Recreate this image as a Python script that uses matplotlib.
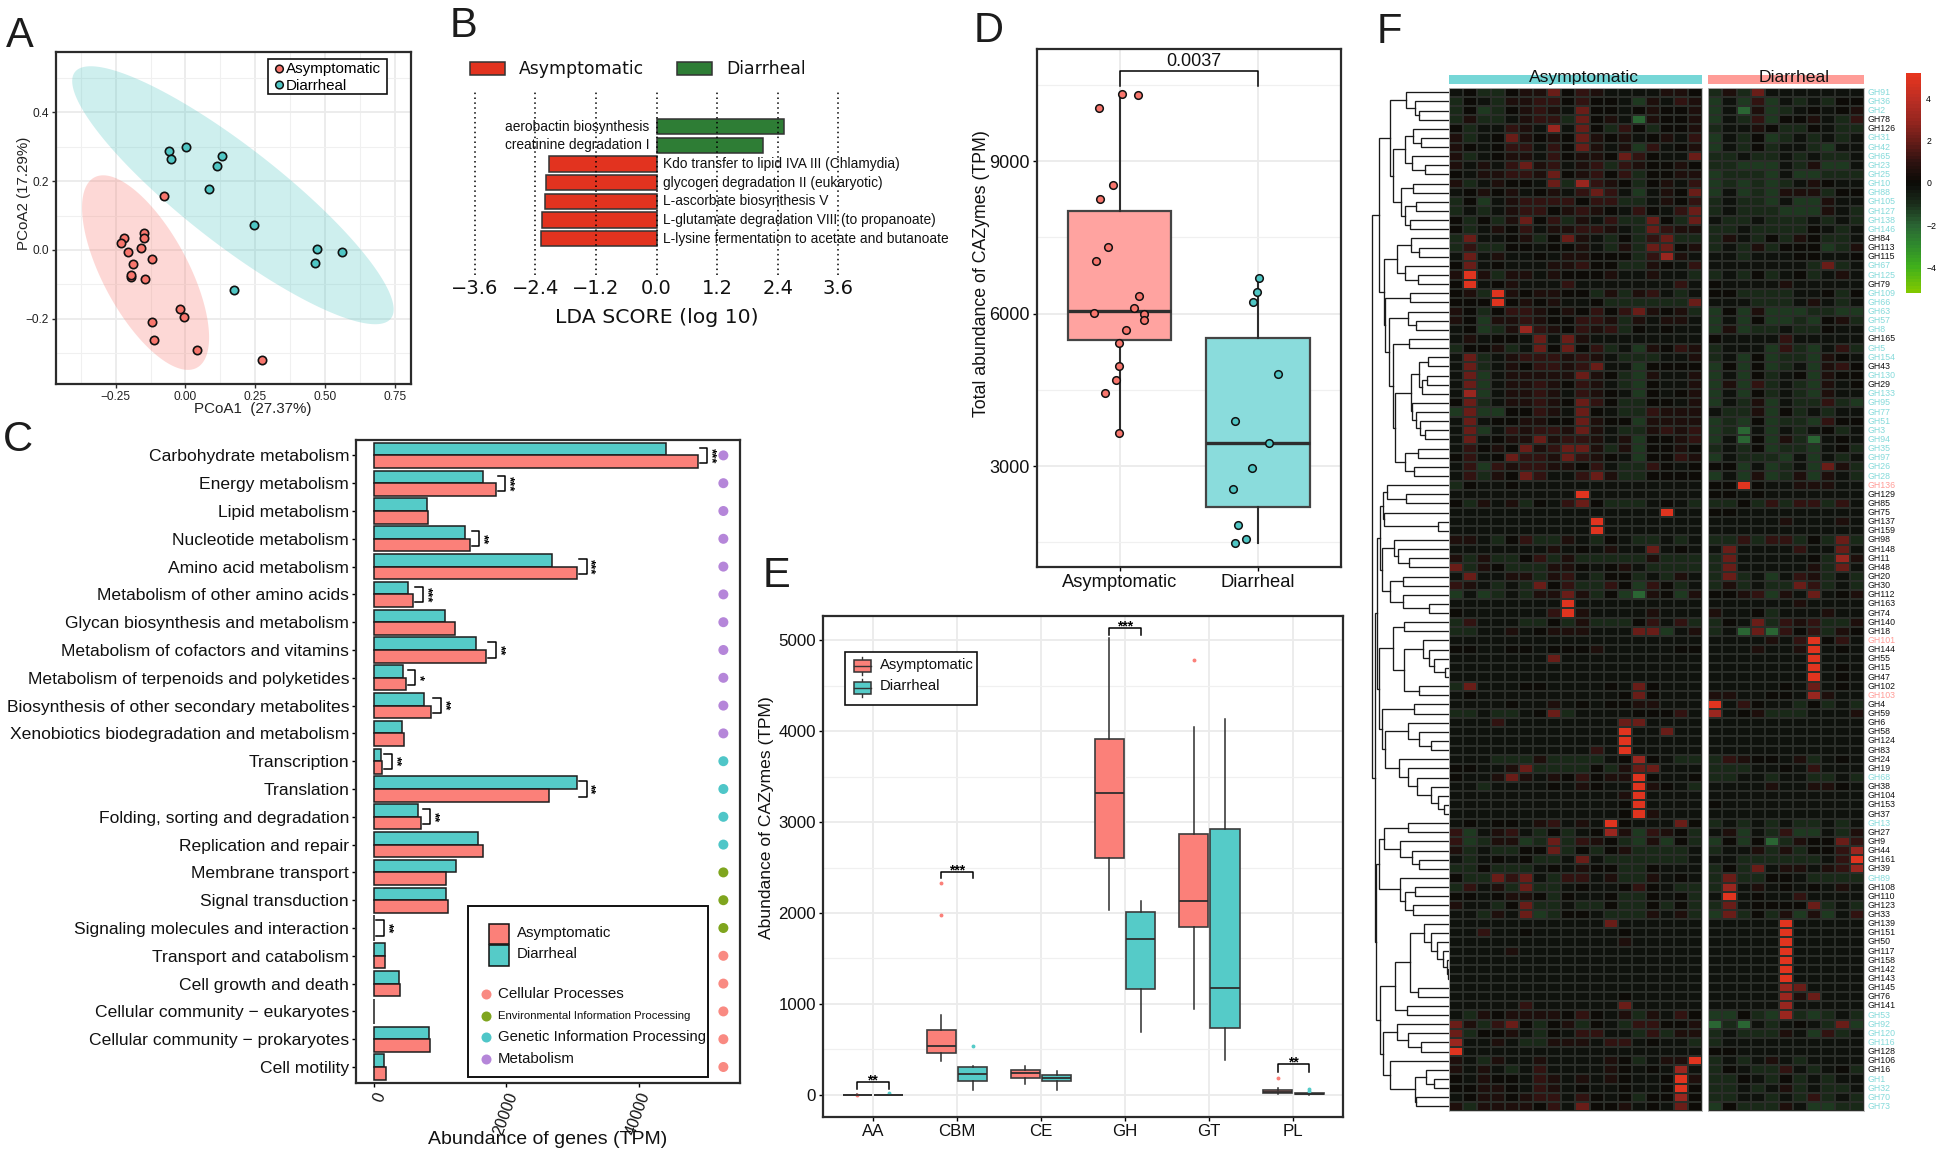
import numpy as np
import matplotlib
matplotlib.use('Agg')
from matplotlib import pyplot as plt
from matplotlib.colors import LinearSegmentedColormap
from matplotlib.patches import Rectangle
from matplotlib.transforms import ScaledTranslation

plt.rcParams['font.family'] = ['Liberation Sans', 'DejaVu Sans']

W, H = 1943, 1152
SALMON = '#F8766D'
TEAL = '#4FC6C4'
DARK = '#2b2b2b'

# Panel A
a_asym_x = [-0.076, -0.148, -0.219, -0.232, -0.149, -0.158, -0.207, -0.119, -0.189, -0.197, -0.195, -0.146, -0.020, -0.007, -0.121, -0.113, 0.041, 0.273]
a_asym_y = [0.158, 0.049, 0.035, 0.021, 0.034, 0.007, -0.005, -0.025, -0.042, -0.078, -0.074, -0.085, -0.171, -0.195, -0.210, -0.263, -0.291, -0.321]
a_diar_x = [-0.059, -0.053, 0.003, 0.130, 0.112, 0.083, 0.244, 0.473, 0.560, 0.463, 0.175]
a_diar_y = [0.289, 0.264, 0.300, 0.273, 0.245, 0.177, 0.073, 0.002, -0.007, -0.037, -0.118]
# centre, major half axis, minor half axis
a_ell_asym = [(-0.143, -0.066), (0.1836, -0.2768), (0.1345, 0.0587)]
a_ell_diar = [(0.170, 0.159), (0.566, -0.3585), (0.1063, 0.1105)]

# Panel B
b_names = ['aerobactin biosynthesis', 'creatinine degradation I', 'Kdo transfer to lipid IVA III (Chlamydia)',
           'glycogen degradation II (eukaryotic)', 'L-ascorbate biosynthesis V',
           'L-glutamate degradation VIII (to propanoate)', 'L-lysine fermentation to acetate and butanoate']
b_scores = [2.52, 2.10, -2.13, -2.19, -2.21, -2.26, -2.28]
b_ticks = [-3.6, -2.4, -1.2, 0.0, 1.2, 2.4, 3.6]

# Panel C
c_names = ['Carbohydrate metabolism', 'Energy metabolism', 'Lipid metabolism', 'Nucleotide metabolism',
           'Amino acid metabolism', 'Metabolism of other amino acids', 'Glycan biosynthesis and metabolism',
           'Metabolism of cofactors and vitamins', 'Metabolism of terpenoids and polyketides',
           'Biosynthesis of other secondary metabolites', 'Xenobiotics biodegradation and metabolism',
           'Transcription', 'Translation', 'Folding, sorting and degradation', 'Replication and repair',
           'Membrane transport', 'Signal transduction', 'Signaling molecules and interaction',
           'Transport and catabolism', 'Cell growth and death', 'Cellular community \u2212 eukaryotes',
           'Cellular community \u2212 prokaryotes', 'Cell motility']
c_diar = [44100, 16530, 8010, 13720, 26860, 5200, 10760, 15450, 4480, 7650, 4330, 1080, 30680, 6640, 15670, 12350, 10970, 70, 1660, 3830, 20, 8370, 1520]
c_asym = [48880, 18400, 8230, 14510, 30680, 5990, 12270, 16970, 4840, 8660, 4550, 1300, 26420, 7080, 16460, 10900, 11190, 70, 1660, 3900, 10, 8450, 1880]
c_stars = {0: '***', 1: '***', 3: '**', 4: '***', 5: '***', 7: '**', 8: '*', 9: '**', 11: '**', 12: '**', 13: '**', 17: '**'}
c_class = ['M'] * 11 + ['G'] * 4 + ['E'] * 3 + ['C'] * 5
c_class_colors = {'C': '#F98A82', 'E': '#7FA51E', 'G': '#4FC6C8', 'M': '#B586D9'}

# Panel D
d_asym_x = [0.017, 0.136, -0.151, -0.046, -0.139, -0.080, -0.168, 0.144, 0.107, -0.182, 0.175, 0.180, 0.044, -0.005, -0.005, -0.022, -0.105, -0.005]
d_asym_y = [10321, 10298, 10050, 8537, 8258, 7317, 7039, 6354, 6105, 6023, 5992, 5872, 5669, 5420, 4961, 4698, 4434, 3659]
d_diar_x = [1.010, 0.993, 0.961, 1.146, 0.837, 1.078, 0.954, 0.822, 0.859, 0.915, 0.835]
d_diar_y = [6700, 6422, 6226, 4811, 3892, 3463, 2966, 2552, 1845, 1558, 1483]
d_box_asym = dict(whislo=3659, q1=5473, med=6053, q3=8017, whishi=10329, fliers=[])
d_box_diar = dict(whislo=1483, q1=2191, med=3463, q3=5518, whishi=6700, fliers=[])

# Panel E
e_cats = ['AA', 'CBM', 'CE', 'GH', 'GT', 'PL']
e_asym_whislo = [0, 367, 124, 2031, 945, 5]
e_asym_q1 = [0, 462, 190, 2609, 1841, 17]
e_asym_med = [1, 533, 239, 3323, 2134, 29]
e_asym_q3 = [3, 714, 277, 3909, 2869, 50]
e_asym_whishi = [5, 883, 318, 5024, 4050, 78]
e_asym_fliers = [[0], [1973, 2328], [], [], [4788], [182]]
e_diar_whislo = [0, 58, 50, 689, 388, 1]
e_diar_q1 = [0, 157, 149, 1164, 739, 4]
e_diar_med = [1, 227, 186, 1709, 1172, 8]
e_diar_q3 = [3, 301, 223, 2006, 2919, 17]
e_diar_whishi = [5, 322, 260, 2134, 4132, 17]
e_diar_fliers = [[18], [541], [], [], [], [41, 66]]
# category index, bracket top, bracket bottom, stars
e_sig = [(0, 140, 66, '**'), (1, 2456, 2386, '***'), (3, 5135, 5061, '***'), (5, 334, 256, '**')]

# Panel F
f_labels = [91, 36, 2, 78, 126, 31, 42, 65, 23, 25, 10, 88, 105, 127, 138, 146, 84, 113, 115, 67, 125, 79, 109, 66, 63, 57, 8, 165, 5, 154, 43, 130, 29, 133,
            95, 77, 51, 3, 94, 35, 97, 26, 28, 136, 129, 85, 75, 137, 159, 98, 148, 11, 48, 20, 30, 112, 163, 74, 140, 18, 101, 144, 55, 15, 47, 102, 103, 4, 59,
            6, 58, 124, 83, 24, 19, 68, 38, 104, 153, 37, 13, 27, 9, 44, 161, 39, 89, 108, 110, 123, 33, 139, 151, 50, 117, 158, 142, 143, 145, 76, 141, 53, 92,
            120, 116, 128, 106, 16, 1, 32, 70, 73]
f_cyan = [91, 36, 2, 31, 42, 65, 23, 25, 10, 88, 105, 127, 138, 146, 67, 125, 109, 66, 63, 57, 8, 5, 154, 130, 133, 95, 77, 51, 3, 94, 35, 97, 26, 28,
          89, 68, 13, 53, 92, 120, 116, 1, 32, 70, 73]
f_pink = [136, 101, 103]
# one character per cell, read by eye
f_levels = {'#': -2.0, '=': -1.3, '-': -0.9, '.': -0.3, '0': 0.0, '1': 0.5, '2': 1.1, '3': 2.0, '4': 3.0, '5': 5.0}
f_left = [
    '.0--0113021....110', '-0.-11220200.=1.21', '-0=-0121.300.01001', '-1--.122-301.#1001', '0-..21.4.30-20-001',
    '1-.0310103101.01.2', '10.022.2031.1=2.01', '1-.011.20110320..3', '1.1.2312.12-210010', '0.11221301202-0011',
    '1-.100.3-4210-01.2', '.0101.01.232.=.103', '-0=.12222022--.102', '-.-.12201210.20.23', '0-0-1302-1.2--30-3',
    '0-.102.11221.-3211', '-3..01-031.-0-23--', '-2--00.001.-1-3301', '.3.1..0.11000-241.', '03.0...11200--10.2',
    '151-11.10001..1..-', '05.01...2.......2.', '01-5101100-1-12.-.', '00050101..0------3', '10-02210102023101-',
    '10=112100221-1.11.', '.0=-14210212-0.0..', '.1.00.3.31........', '-001-.30302-.=1021', '.3-.1222121.---..1',
    '.3-.1022123..=0000', '.3=.11111310-=1..1', '.3=.1121021.-=0..1', '.4=.1121.210.=0.01', '03-.11210320--00.1',
    '=3==0021.30.--2111', '.3.0011003100=1111', '.3=.2122131.--1212', '.3.01131221.1=0012', '.2010312331-1=0010',
    '02.032213210.=0021', '.2=21221102.--20.0', '.2-1032..231--0000', '-0..0.............', '.........5........',
    '0-1.1-0.230---.0.-', '...............5..', '..........5.......', '..........5.......', '11.-02--1.-0.--.-.',
    '.......1.0.1..3.0.', '1-1--02-1-----1---', '3-10---110.01.----', '.3..11-12.-00-.-1.', '21.-.-302--20=20-.',
    '=.=-.-1131-0=#10=1', '........5.........', '0......251....1...', '-2...--0-1---02.2-', '--..1.0111...33=.1',
    '..................', '00..00.0001.....00', '.......3..........', '..................', '..................',
    '-3...00....0.30...', '.0..........030...', '....0..1.0.0011...', '--.--.03-....0002.', '...2........33....',
    '............5..3..', '............5.....', '..........2.5.....', '...---1----.040.--', '00..13----0-133...',
    '0..131.10201150..0', '..-....0.10..510.-', '............15....', '............05....', '............051...',
    '.0.00.12.1.50...30', '2=.12.-0-.041=210-', '2=-11=-3-210-=1=0-', '1-.--003-0-01----.', '.-.0.0--.3.------.',
    '--0---.0.100--0...', '0--323.-22.1--1.0.', '-2.1-3--.0..020.--', '00.0110-0..0--0.0-', '1..-03--.--0--0-0-',
    '..-1.3=-00.---1.1-', '...........3......', '..2..0......0.....', '............1.....', '....1.............',
    '..................', '..................', '..................', '..................', '............0.....',
    '.....2......3.....', '.-101111020.1-1.20', '31-230-01-0.-22001', '3-001.-0.22..-2-11', '4..1.--111.22.0..-',
    '5.................', '1.-1..1....10-.115', '1.1.-.2....10.0.4.', '0.100.21.1.10..051', '00110.21.0..0..050',
    '.0110122.20.0-0040', '1-111102.3001.0.30']
f_right = [
    '-1-3.......', '=.=2=.-.-00', '=.#1=-.0.01', '=.-2=001.-2', '-..10--0.--',
    '=.-0=-.-.-.', '=.-0-..-=..', '--.--.-.--.', '--===.-1==.', '=---=.==---',
    '=-=-=-.10..', '=.=-=111-00', '-.--=.==1..', '-.---===1.-', '.--.---.-.-',
    '--.----0.-.', '-1.-0-10--.', '-.-1-000=-1', '..-...00..0', '.......-3-.',
    '-.-0-.0-.1.', '0....1.....', '00----..0-0', '...---.1.-.', '=0=1===--==',
    '=.=0==-=01-', '=1=--.--0..', '0....2.....', '-...=2-=.2-', '-.=0=--=10.',
    '=0=0=-.=120', '=.=0-.0=100', '=1=2-.-=1.0', '=.=0-.-=1..', '=.-1=.--2-=',
    '.--1=0-.-..', '=-=0=--=200', '=-#.=.-.0-.', '=.#0=1-#.0.', '-.-0=--=.0-',
    '=.---=.=.-.', '00=.=-.=31-', '=.=1=-1=1.-', '0050..111..', '00.0.......',
    '--0-2-22-2.', '00.........', '.....1...1.', '...........', '--2-22-0-3-',
    '.3....2..3.', '-3.....0-41', '-3.....1-3.', '-3-.=.21-.-', '-1-.--32-.-',
    '0012=1.3.01', '......1....', '1..0-...1..', '-0.3-212--1', '-.#3#202-10',
    '....1.2502.', '...1..15.0.', '.......5...', '.......5.0.', '.......5.0.',
    '.....0.3.0.', '11..00.41..', '5.20..-0-.-', '4.01---...1', '...........',
    '...........', '...........', '...........', '-2100.1-.0.', '---..0.2...',
    '--..-..--.-', '....1..110.', '...........', '0..........', '...........',
    '-.-.-.--.-.', '.1=.-2==.-1', '=0=0#-10032', '-..1-1-0024', '..------.25',
    '-0-3.11.124', '-3--00.----', '-4.1.0.0.1.', '.5.0..2....', '-3.00003-.-',
    '=3-0-1=1=.2', '.....5.....', '.....5.....', '.....5.....', '.....5.....',
    '.....5.....', '.....5.....', '.....5.....', '.....43....', '.....413...',
    '.....4.....', '==0-=4-=-.-', '#-#.-.0.-3=', '-.---1.=2-.', '-..........',
    '00.........', '-.-.1.-....', '-0.--2.-.0-', '--0.-0-.-..', '--.-.1-.--.',
    '--..-.-2-.-', '=0---1.==--']

# dendrogram: (position of the joining line, upper child, lower child), 0 is a leaf
t1 = (125, 0, (147, 0, (160, 0, 0)))
t2 = (122, (143, 0, (163, 0, 0)), (140, 0, (174, 0, 0)))
t3 = (110, (143, 0, 0), (120, (150, 0, 0), (135, 0, 0)))
t_a = (82, t1, (90, t2, t3))
t_b1 = (100, (136, 0, (158, 0, 0)), (122, 0, (157, 0, 0)))
t_b3 = (130, 0, (150, 0, 0))
t_b5 = (160, (183, 0, 0), (168, (180, 0, 0), 0))
t_b6 = (140, 0, (150, 0, (162, 0, (175, 0, 0))))
t_b7 = (120, (157, 0, 0), (146, 0, 0))
t_c = (78, t_b3, (90, (133, 0, 0), (95, (138, t_b5, t_b6), t_b7)))
t_b = (65, t_b1, (68, (135, 0, 0), t_c))
t_top = (52, t_a, t_b)
t_d1 = (62, (72, 0, (125, 0, 0)), (65, 0, (210, 0, 0)))
t_d2 = (92, 0, (103, 0, (133, 0, 0)))
t_d3 = (80, (115, 0, 0), (115, 0, (185, 0, 0)))
t_p = (55, t_d1, (58, t_d2, t_d3))
t_q1 = (88, (118, 0, 0), (118, (170, 0, (185, 0, (200, 0, (228, 0, 0)))), (160, 0, 0)))
t_q2 = (58, (145, 0, 0), (68, (128, 0, (158, 0, (190, 0, 0))), (105, 0, (128, 0, (152, 0, (190, 0, (210, 0, (225, 0, 0))))))))
t_q = (50, t_q1, t_q2)
t_r1 = (65, (130, 0, 0), (108, 0, (140, 0, (158, 0, 0))))
t_r2 = (107, 0, (122, (147, 0, 0), (142, 0, 0)))
t_r = (50, t_r1, t_r2)
t_s1 = (93, (135, (172, 0, (192, 0, (208, 0, (222, 0, (235, 0, (237, 0, 0)))))), (155, 0, 0)), (127, 0, 0))
t_s2 = (62, (100, 0, (128, 0, (165, 0, 0))), (80, 0, (148, (178, 0, (198, 0, 0)), (150, 0, 0))))
t_s = (55, t_s1, t_s2)
t_root = (32, t_top, (40, (45, t_p, t_q), (42, t_r, t_s)))


def add_axes_px(l, t, r, b):
    return fig.add_axes([l / W, 1 - b / H, (r - l) / W, (b - t) / H])


def style_box(ax, lw=1.5):
    for s in ax.spines.values():
        s.set_linewidth(lw)
        s.set_color(DARK)


def ellipse_xy(e):
    t = np.linspace(0, 2 * np.pi, 200)
    c, u, v = e
    return c[0] + u[0] * np.cos(t) + v[0] * np.sin(t), c[1] + u[1] * np.cos(t) + v[1] * np.sin(t)


fig = plt.figure(figsize=(W / 100, H / 100), dpi=100)
ov = fig.add_axes([0, 0, 1, 1], zorder=20)
ov.set_xlim(0, W)
ov.set_ylim(H, 0)
ov.axis('off')

for letter, lx, ly in [('A', 6, 47), ('B', 450, 37), ('C', 3, 451), ('D', 974, 42), ('E', 763, 587), ('F', 1377, 43)]:
    ov.text(lx, ly, letter, fontsize=30, color='#1c1c1c', va='baseline', ha='left')

# A
ax = add_axes_px(55.7, 52, 411, 384)
ax.set_xlim(-0.465, 0.808)
ax.set_ylim(-0.39, 0.5756)
ax.fill(*ellipse_xy(a_ell_diar), color='#4FC6C4', alpha=0.28, lw=0, zorder=2)
ax.fill(*ellipse_xy(a_ell_asym), color=SALMON, alpha=0.28, lw=0, zorder=2)
ax.set_xticks([-0.25, 0, 0.25, 0.5, 0.75])
ax.set_xticklabels(['\u22120.25', '0.00', '0.25', '0.50', '0.75'], fontsize=8.6)
ax.set_yticks([-0.2, 0, 0.2, 0.4])
ax.set_yticklabels(['\u22120.2', '0.0', '0.2', '0.4'], fontsize=8.6)
ax.set_xticks([-0.375, -0.125, 0.125, 0.375, 0.625], minor=True)
ax.set_yticks([-0.3, -0.1, 0.1, 0.3, 0.5], minor=True)
ax.tick_params(which='minor', length=0)
ax.tick_params(which='major', length=3, width=1, color=DARK, labelcolor='#222222', pad=2)
ax.grid(which='major', color='#ebebeb', lw=1.3, zorder=0)
ax.grid(which='minor', color='#f0f0f0', lw=0.8, zorder=0)
ax.set_axisbelow(True)
ax.scatter(a_asym_x, a_asym_y, s=36, c=SALMON, edgecolors='#111111', linewidths=1.2, zorder=4)
ax.scatter(a_diar_x, a_diar_y, s=36, c=TEAL, edgecolors='#111111', linewidths=1.2, zorder=4)
style_box(ax, 1.6)
ov.text(253, 409, 'PCoA1  (27.37%)', fontsize=10.9, ha='center', va='center', color='#222222')
ov.text(24.5, 193, 'PCoA2 (17.29%)', fontsize=10.9, rotation=90, ha='center', va='center', color='#222222')
ov.add_patch(Rectangle((267.7, 59), 119, 34.7, fc='white', ec='#111111', lw=1.2))
ov.scatter([279.5, 279.5], [69, 85], s=30, c=[SALMON, TEAL], edgecolors='#111111', linewidths=1.1)
ov.text(285.5, 69, 'Asymptomatic', fontsize=10.9, va='center')
ov.text(286, 85.5, 'Diarrheal', fontsize=10.9, va='center')

# B
ax = add_axes_px(440, 89.5, 950, 275.3)
ax.set_xlim((440 - 656.6) / 50.5, (950 - 656.6) / 50.5)
ax.set_ylim(7.96, -1.98)
ax.patch.set_alpha(0)
for s in ax.spines.values():
    s.set_visible(False)
for xv in b_ticks:
    ax.axvline(xv, color='k', lw=1.1, ls=(0, (1, 2.2)), zorder=3)
ax.barh(range(len(b_scores)), b_scores, height=0.82, color=['#2E7D35' if v > 0 else '#E2331F' for v in b_scores],
        edgecolor='#333333', lw=1.1, zorder=2)
for i, (nm, v) in enumerate(zip(b_names, b_scores)):
    if v > 0:
        ax.text(-0.15, i, nm, ha='right', va='center', fontsize=9.9, color='#111111', zorder=4)
    else:
        ax.text(0.12, i, nm, ha='left', va='center', fontsize=9.9, color='#111111', zorder=4)
ax.set_yticks([])
ax.set_xticks(b_ticks)
ax.set_xticklabels(['\u22123.6', '\u22122.4', '\u22121.2', '0.0', '1.2', '2.4', '3.6'], fontsize=14, family='DejaVu Sans', color='#111111')
ax.tick_params(length=0, pad=2.4)
ax.set_xlabel('LDA SCORE (log 10)', fontsize=14.7, family='DejaVu Sans', labelpad=7.5, x=(656.6 - 440) / 510, color='#111111')
ov.add_patch(Rectangle((469.7, 62), 35, 13, fc='#E2331F', ec='#333333', lw=1.1))
ov.add_patch(Rectangle((676.5, 62), 35, 13, fc='#2E7D35', ec='#333333', lw=1.1))
ov.text(518.7, 68.5, 'Asymptomatic', fontsize=12.4, family='DejaVu Sans', va='center', color='#111111')
ov.text(726, 68.5, 'Diarrheal', fontsize=12.4, family='DejaVu Sans', va='center', color='#111111')

# C
ax = add_axes_px(356, 440, 740, 1083.4)
ax.set_xlim(-2670, 55290)
ax.set_ylim(22.59, -0.554)
yy = np.arange(len(c_names))
ax.barh(yy - 0.225, c_diar, height=0.45, color='#55CBC8', edgecolor='#1c1c1c', lw=1.1)
ax.barh(yy + 0.225, c_asym, height=0.45, color='#FB8079', edgecolor='#1c1c1c', lw=1.1)
ax.set_yticks(yy)
ax.set_yticklabels(c_names, fontsize=12.6, color='#111111')
ax.set_xticks([0, 20000, 40000])
ax.set_xticklabels(['0', '20000', '40000'], fontsize=11.5, rotation=70, ha='right', rotation_mode='anchor', color='#111111')
ax.tick_params(axis='y', length=3, width=1, pad=2)
ax.tick_params(axis='x', length=3, width=1, pad=2)
for i, st in c_stars.items():
    x0 = max(c_diar[i], c_asym[i]) + 300
    x1 = x0 + 1150
    ax.plot([x0, x1, x1, x0], [i - 0.27, i - 0.27, i + 0.27, i + 0.27], color='k', lw=1.1)
    ax.text(x1 + 550, i, st, rotation=270, ha='center', va='center', fontsize=9.5, fontweight='bold')
ax.scatter([52780] * len(c_class), yy, s=52, c=[c_class_colors[k] for k in c_class], linewidths=0, zorder=4)
style_box(ax, 1.6)
ov.text(548, 1139, 'Abundance of genes (TPM)', fontsize=14, ha='center', va='center', color='#111111')
ov.add_patch(Rectangle((467.5, 906), 240.5, 171.4, fc='white', ec='#111111', lw=1.4))
ov.add_patch(Rectangle((488.5, 923.7), 20.5, 20.5, fc='#FB8079', ec='#111111', lw=1.1))
ov.add_patch(Rectangle((488.5, 945.2), 20.5, 20.5, fc='#55CBC8', ec='#111111', lw=1.1))
ov.text(516.5, 933, 'Asymptomatic', fontsize=10.8, va='center', color='#111111')
ov.text(516.5, 954.5, 'Diarrheal', fontsize=10.8, va='center', color='#111111')
c_leg = [('Cellular Processes', 'C', 10.9, 993.6), ('Environmental Information Processing', 'E', 8.2, 1016.4),
         ('Genetic Information Processing', 'G', 10.7, 1037), ('Metabolism', 'M', 10.8, 1058.7)]
for txt, k, fs, ly in c_leg:
    ov.scatter([485.5], [ly], s=52, c=c_class_colors[k], linewidths=0)
    ov.text(497.5, ly, txt, fontsize=fs, va='center', color='#111111')

# D
ax = add_axes_px(1037, 48.5, 1341, 567)
ax.set_xlim(-0.596, 1.6)
ax.set_ylim(1016, 11217)
ax.set_xticks([0, 1])
ax.set_xticklabels(['Asymptomatic', 'Diarrheal'], fontsize=13.2, color='#111111')
for lab, shift in zip(ax.get_xticklabels(), [8, 5]):
    lab.set_transform(lab.get_transform() + ScaledTranslation(shift / 100, 0, fig.dpi_scale_trans))
ax.set_yticks([3000, 6000, 9000])
ax.set_yticklabels(['3000', '6000', '9000'], fontsize=13, color='#111111')
ax.set_yticks([1500, 4500, 7500, 10500], minor=True)
ax.tick_params(which='minor', length=0)
ax.tick_params(which='major', length=3, width=1, pad=2)
ax.grid(which='major', color='#ebebeb', lw=1.3)
ax.grid(which='minor', axis='y', color='#f0f0f0', lw=0.9)
ax.set_axisbelow(True)
for pos, stats, col in [(0, d_box_asym, '#FFA3A0'), (1, d_box_diar, '#8ADCDC')]:
    ax.bxp([stats], positions=[pos], widths=0.75, patch_artist=True, showcaps=False, showfliers=False,
           boxprops=dict(facecolor=col, edgecolor='#444444', lw=1.6),
           medianprops=dict(color='#2e2e2e', lw=2.4),
           whiskerprops=dict(color='#2e2e2e', lw=1.5), manage_ticks=False)
ax.scatter(d_asym_x, d_asym_y, s=30, c=SALMON, edgecolors='#111111', linewidths=1.1, zorder=5)
ax.scatter(d_diar_x, d_diar_y, s=30, c=TEAL, edgecolors='#111111', linewidths=1.1, zorder=5)
ax.plot([0, 0, 1, 1], [10480, 10770, 10770, 10480], color='k', lw=1.1)
ax.text(0.54, 10790, '0.0037', ha='center', va='bottom', fontsize=13, color='#111111')
style_box(ax, 1.6)
ov.text(981.5, 274, 'Total abundance of CAZymes (TPM)', rotation=90, fontsize=12.8, ha='center', va='center', color='#111111')

# E
ax = add_axes_px(822.7, 616, 1343, 1117)
ax.set_xlim(-0.596, 5.59)
ax.set_ylim(-244, 5267)
ax.set_xticks(range(len(e_cats)))
ax.set_xticklabels(e_cats, fontsize=12.2, color='#111111')
ax.set_yticks([0, 1000, 2000, 3000, 4000, 5000])
ax.set_yticklabels(['0', '1000', '2000', '3000', '4000', '5000'], fontsize=12.2, color='#111111')
ax.set_yticks([500, 1500, 2500, 3500, 4500], minor=True)
ax.tick_params(which='minor', length=0)
ax.tick_params(which='major', length=3, width=1, pad=2)
ax.grid(which='major', color='#ebebeb', lw=1.3)
ax.grid(which='minor', axis='y', color='#f0f0f0', lw=0.9)
ax.set_axisbelow(True)
asym_stats = [dict(whislo=a, q1=b, med=c, q3=d, whishi=e, fliers=f) for a, b, c, d, e, f in
              zip(e_asym_whislo, e_asym_q1, e_asym_med, e_asym_q3, e_asym_whishi, e_asym_fliers)]
diar_stats = [dict(whislo=a, q1=b, med=c, q3=d, whishi=e, fliers=f) for a, b, c, d, e, f in
              zip(e_diar_whislo, e_diar_q1, e_diar_med, e_diar_q3, e_diar_whishi, e_diar_fliers)]
for stats, off, col in [(asym_stats, -0.187, '#FB8079'), (diar_stats, 0.187, '#55CBC8')]:
    ax.bxp(stats, positions=np.arange(6) + off, widths=0.345, patch_artist=True, showcaps=False,
           boxprops=dict(facecolor=col, edgecolor='#3c3c3c', lw=1.2),
           medianprops=dict(color='#2e2e2e', lw=1.3),
           whiskerprops=dict(color='#2e2e2e', lw=1.1),
           flierprops=dict(marker='o', ms=1.8, mfc=col, mec=col), manage_ticks=False)
for k, top, bot, st in e_sig:
    ax.plot([k - 0.187, k - 0.187, k + 0.187, k + 0.187], [bot, top, top, bot], color='k', lw=1.1)
    ax.text(k, top - 60, st, ha='center', va='bottom', fontsize=10, fontweight='bold')
style_box(ax, 1.6)
ov.text(766, 818, 'Abundance of CAZymes (TPM)', rotation=90, fontsize=12.6, ha='center', va='center', color='#111111')
ov.add_patch(Rectangle((844.5, 652), 132.5, 53, fc='white', ec='#111111', lw=1.2))
for ky, col, txt in [(666, '#FB8079', 'Asymptomatic'), (687.5, '#55CBC8', 'Diarrheal')]:
    ov.plot([862, 862], [ky - 9, ky + 9], color='#333333', lw=1)
    ov.add_patch(Rectangle((854, ky - 6), 16.5, 12, fc=col, ec='#333333', lw=1.1, zorder=3))
    ov.plot([854, 870.5], [ky, ky], color='#333333', lw=1, zorder=4)
    ov.text(880, ky - 1, txt, fontsize=10.7, va='center', color='#111111')

# F
cmap = LinearSegmentedColormap.from_list('hm', [(0.0, '#80C800'), (1.2 / 10.4, '#3FAF1C'), (2.2 / 10.4, '#2F8A2D'),
                                                (3.2 / 10.4, '#2A6333'), (4.2 / 10.4, '#1A2C1A'), (4.9 / 10.4, '#10140E'),
                                                (0.5, '#0A0A06'), (6.2 / 10.4, '#2D1210'), (7.2 / 10.4, '#661C18'),
                                                (8.2 / 10.4, '#97261F'), (9.2 / 10.4, '#BA2E24'), (1.0, '#E6351E')], N=64)
f_top, f_bot = 87.7, 1111
blocks = [(f_left, 1448.5, 1702.4), (f_right, 1708.3, 1863.7)]
for rows, l, r in blocks:
    mat = np.array([[f_levels[ch] for ch in row] for row in rows])
    ax = add_axes_px(l, f_top, r, f_bot)
    mesh = ax.pcolormesh(mat, cmap=cmap, vmin=-5.2, vmax=5.2, edgecolors='#2b2e29', linewidth=0.25)
    ax.set_ylim(len(rows), 0)
    ax.set_xticks([])
    ax.set_yticks([])
    for s in ax.spines.values():
        s.set_color('#bbbbbb')
        s.set_linewidth(0.6)

ov.add_patch(Rectangle((1448.5, 75), 253.9, 8.5, fc='#76D7D7', ec='none'))
ov.add_patch(Rectangle((1708.3, 75), 155.4, 8.5, fc='#FF9C97', ec='none'))
ov.text(1584, 77.5, 'Asymptomatic', fontsize=12.6, ha='center', va='center', color='#111111')
ov.text(1794, 77.5, 'Diarrheal', fontsize=12.6, ha='center', va='center', color='#111111')

row_h = (f_bot - f_top) / len(f_labels)
for i, lab in enumerate(f_labels):
    col = '#85DADA' if lab in f_cyan else ('#FF9C97' if lab in f_pink else '#111111')
    ov.text(1868, f_top + (i + 0.5) * row_h, 'GH%d' % lab, fontsize=6.3, color=col, ha='left', va='center')

cax = add_axes_px(1905.7, 73.3, 1920.6, 292.7)
cb = fig.colorbar(mesh, cax=cax)
cb.set_ticks([-4, -2, 0, 2, 4])
cb.set_ticklabels(['\u22124', '\u22122', '0', '2', '4'], fontsize=6.3)
cb.ax.tick_params(length=0, pad=4)
cb.outline.set_visible(False)

# dendrogram
dax = add_axes_px(1360, f_top, 1448.5, f_bot)
dax.set_xlim(0, 238)
dax.set_ylim(len(f_labels), 0)
dax.axis('off')
leaf = [0]


def draw_tree(node):
    if node == 0:
        leaf[0] += 1
        return 238, leaf[0] - 0.5
    xn, a, b = node
    xa, ya = draw_tree(a)
    xb, yb = draw_tree(b)
    dax.plot([xa, xn, xn, xb], [ya, ya, yb, yb], color='#1a1a1a', lw=0.95, solid_joinstyle='miter')
    return xn, (ya + yb) / 2


draw_tree(t_root)

fig.savefig('out.png', dpi=100)
